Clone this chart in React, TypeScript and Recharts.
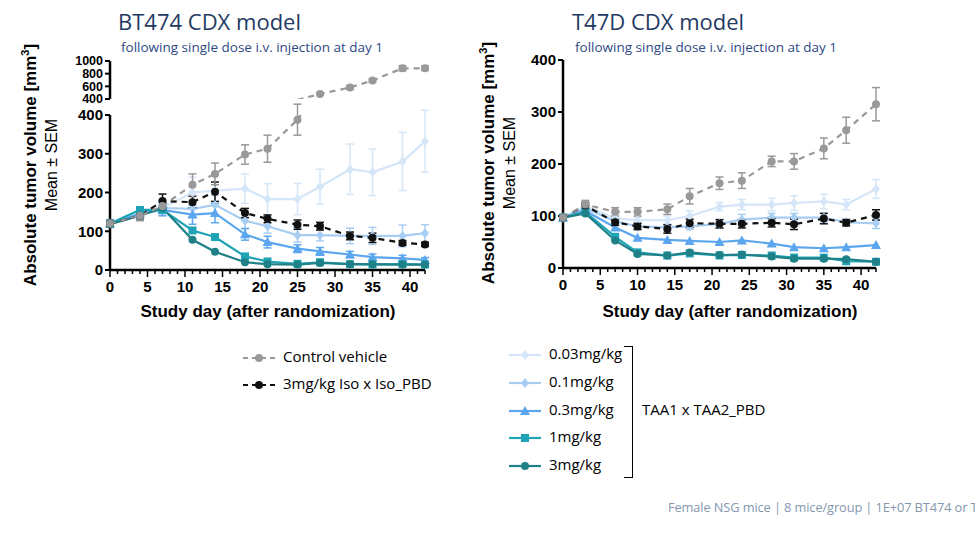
import React from "react";
import { LineChart, Line, XAxis, YAxis, ErrorBar } from "recharts";

// BT474 (left) and T47D (right) tumor volume, mean ± SEM
const bt474Days = [0, 4, 7, 11, 14, 18, 21, 25, 28, 32, 35, 39, 42];
const bt474Control = [120, 140, 165, 220, 248, 298, 313, 388, 478, 583, 692, 885, 885];
const bt474ControlErr = [10, 12, 15, 28, 28, 25, 35, 40, 20, 30, 25, 40, 35];
const bt474Iso = [120, 140, 178, 175, 202, 147, 132, 117, 113, 88, 83, 70, 66];
const bt474IsoErr = [8, 12, 18, 15, 25, 12, 10, 12, 10, 10, 12, 6, 5];
const bt474D003 = [120, 145, 160, 200, 205, 210, 183, 183, 215, 260, 252, 280, 332];
const bt474D003Err = [10, 15, 20, 40, 40, 38, 40, 40, 45, 65, 60, 75, 80];
const bt474D01 = [120, 145, 160, 158, 168, 127, 113, 90, 90, 88, 88, 88, 95];
const bt474D01Err = [8, 12, 15, 20, 25, 20, 18, 18, 15, 20, 22, 28, 22];
const bt474D03 = [120, 145, 155, 143, 147, 92, 72, 55, 48, 40, 33, 30, 26];
const bt474D03Err = [8, 12, 15, 25, 25, 15, 15, 10, 10, 8, 8, 8, 6];
const bt474D1 = [120, 155, 155, 102, 85, 35, 22, 16, 20, 15, 14, 15, 14];
const bt474D3 = [118, 140, 160, 78, 47, 20, 15, 14, 18, 15, 15, 14, 14];

const t47dDays = [0, 3, 7, 10, 14, 17, 21, 24, 28, 31, 35, 38, 42];
const t47dControl = [97, 122, 108, 108, 113, 138, 163, 168, 205, 205, 230, 265, 315];
const t47dControlErr = [5, 8, 8, 8, 10, 15, 12, 15, 10, 15, 20, 25, 32];
const t47dIso = [97, 120, 88, 80, 75, 86, 85, 85, 87, 84, 95, 87, 102];
const t47dIsoErr = [4, 6, 6, 6, 8, 8, 8, 8, 8, 10, 10, 6, 10];
const t47dD003 = [97, 120, 95, 92, 92, 100, 118, 122, 122, 125, 128, 122, 152];
const t47dD003Err = [4, 6, 8, 6, 8, 10, 8, 10, 12, 14, 14, 10, 18];
const t47dD01 = [97, 115, 90, 80, 78, 80, 85, 93, 97, 97, 97, 88, 86];
const t47dD01Err = [4, 6, 6, 6, 6, 6, 8, 10, 8, 8, 8, 6, 10];
const t47dD03 = [97, 110, 78, 58, 54, 52, 50, 53, 47, 40, 38, 40, 44];
const t47dD1 = [97, 108, 60, 30, 24, 28, 24, 25, 24, 20, 20, 13, 12];
const t47dD3 = [97, 105, 53, 27, 24, 30, 25, 26, 22, 18, 18, 17, 12];

const dayTicks = Array.from({ length: 43 }, (_, i) => i);
const BREAK = 400;

const C = {
  control: "#999999",
  iso: "#111111",
  d003: "#d4e6f7",
  d01: "#a8cdf3",
  d03: "#5ba6ee",
  d1: "#1fa3b6",
  d3: "#1f8087",
};

const FONT = "'Liberation Sans', Arial, sans-serif";
const CAL = "'Open Sans', 'Noto Sans', sans-serif";

function build(days: number[], cols: Record<string, (number | null)[]>) {
  return days.map((d, i) => {
    const row: Record<string, number | null> = { day: d };
    Object.keys(cols).forEach((k) => (row[k] = cols[k][i]));
    return row;
  });
}

// split control series across the broken axis
const bt474ControlLowErr = bt474Control.map((v, i) => (v > BREAK ? null : bt474ControlErr[i]));
const bt474ControlUp = bt474Control.map((v, i) => (v > BREAK || bt474Control[i + 1] > BREAK ? v : null));
const bt474ControlUpErr = bt474Control.map((v, i) => (v > BREAK ? bt474ControlErr[i] : null));

const leftData = build(bt474Days, {
  control: bt474Control, controlErr: bt474ControlLowErr,
  controlUp: bt474ControlUp, controlUpErr: bt474ControlUpErr,
  iso: bt474Iso, isoErr: bt474IsoErr,
  d003: bt474D003, d003Err: bt474D003Err,
  d01: bt474D01, d01Err: bt474D01Err,
  d03: bt474D03, d03Err: bt474D03Err,
  d1: bt474D1, d3: bt474D3,
});
const rightData = build(t47dDays, {
  control: t47dControl, controlErr: t47dControlErr,
  iso: t47dIso, isoErr: t47dIsoErr,
  d003: t47dD003, d003Err: t47dD003Err,
  d01: t47dD01, d01Err: t47dD01Err,
  d03: t47dD03,
  d1: t47dD1, d3: t47dD3,
});

type Shape = "circle" | "diamond" | "triangle" | "square" | "hex";

function Marker({ shape, color, x, y, r = 4 }: { shape: Shape; color: string; x: number; y: number; r?: number }) {
  if (shape === "circle" || shape === "hex") return <circle cx={x} cy={y} r={r} fill={color} />;
  if (shape === "square") return <rect x={x - r} y={y - r} width={2 * r} height={2 * r} fill={color} />;
  if (shape === "triangle")
    return <polygon points={`${x},${y - r - 1} ${x + r + 1},${y + r} ${x - r - 1},${y + r}`} fill={color} />;
  return <polygon points={`${x},${y - r - 1} ${x + r},${y} ${x},${y + r + 1} ${x - r},${y}`} fill={color} />;
}

const dotFn = (shape: Shape, color: string, min = -Infinity, max = Infinity) => (p: any) =>
  p.cx == null || p.cy == null || p.value == null || p.value < min || p.value > max ? (
    <g key={p.key} />
  ) : (
    <Marker key={p.key} shape={shape} color={color} x={p.cx} y={p.cy} />
  );

const DayTick = (p: any) => {
  const v = p.payload.value;
  const major = v % 5 === 0 && v <= 40;
  return (
    <g>
      <line x1={p.x} x2={p.x} y1={p.y - 8} y2={p.y - 8 + (major ? 7 : 4)} stroke="#000" strokeWidth={1.5} />
      {major && (
        <text x={p.x} y={p.y + 14} textAnchor="middle" fontFamily={FONT} fontWeight="bold" fontSize={15} fill="#000">
          {v}
        </text>
      )}
    </g>
  );
};

const series: { key: string; shape: Shape; color: string; dash?: string; err?: boolean }[] = [
  { key: "d003", shape: "diamond", color: C.d003, err: true },
  { key: "d01", shape: "diamond", color: C.d01, err: true },
  { key: "d03", shape: "triangle", color: C.d03, err: true },
  { key: "d1", shape: "square", color: C.d1 },
  { key: "d3", shape: "hex", color: C.d3 },
  { key: "iso", shape: "circle", color: C.iso, dash: "6 5", err: true },
  { key: "control", shape: "circle", color: C.control, dash: "6 5", err: true },
];

function renderLines(hasErr: (k: string) => boolean, max = Infinity) {
  return series.map((s) => (
    <Line
      key={s.key}
      dataKey={s.key}
      stroke={s.color}
      strokeWidth={2.2}
      strokeDasharray={s.dash}
      dot={dotFn(s.shape, s.color, -Infinity, max)}
      isAnimationActive={false}
    >
      {s.err && hasErr(s.key) && (
        <ErrorBar dataKey={s.key + "Err"} stroke={s.color} strokeWidth={1.5} width={4} />
      )}
    </Line>
  ));
}

const yTick = { fill: "#000", fontSize: 15, fontWeight: "bold", fontFamily: FONT } as any;
const axisLine = { stroke: "#000", strokeWidth: 2.5 };

function XAx() {
  return (
    <XAxis dataKey="day" type="number" domain={[0, 42]} ticks={dayTicks} interval={0} tick={<DayTick />}
      tickLine={false} axisLine={axisLine} height={30} />
  );
}

function Titles({ x, title }: { x: number; title: string }) {
  return (
    <>
      <div style={{ position: "absolute", left: x, top: 6, fontFamily: CAL, fontSize: 22, color: "#1f3a63" }}>{title}</div>
      <div style={{ position: "absolute", left: x + 3, top: 38, fontFamily: CAL, fontSize: 13.5, color: "#2e4a86" }}>
        following single dose i.v. injection at day 1
      </div>
    </>
  );
}

function YLabel({ cx, cy }: { cx: number; cy: number }) {
  return (
    <div style={{ position: "absolute", left: cx - 150, top: cy - 25, width: 300, height: 50, transform: "rotate(-90deg)", textAlign: "center", fontFamily: FONT, color: "#000", lineHeight: "21px" }}>
      <div style={{ fontWeight: "bold", fontSize: 17 }}>Absolute tumor volume [mm<sup style={{ fontSize: 11 }}>3</sup>]</div>
      <div style={{ fontSize: 16 }}>Mean ± SEM</div>
    </div>
  );
}

function XLabel({ cx }: { cx: number }) {
  return (
    <div style={{ position: "absolute", left: cx - 150, top: 302, width: 300, textAlign: "center", fontFamily: FONT, fontWeight: "bold", fontSize: 17 }}>
      Study day (after randomization)
    </div>
  );
}

function LegendIcon({ shape, color, dash }: { shape: Shape; color: string; dash?: string }) {
  return (
    <svg width={36} height={14} style={{ verticalAlign: "middle", marginRight: 6 }}>
      <line x1={2} x2={34} y1={7} y2={7} stroke={color} strokeWidth={2.2} strokeDasharray={dash ? "5 4" : undefined} />
      <Marker shape={shape} color={color} x={18} y={7} />
    </svg>
  );
}

const legendLeft = [
  { label: "Control vehicle", shape: "circle" as Shape, color: C.control, dash: "y" },
  { label: "3mg/kg Iso x Iso_PBD", shape: "circle" as Shape, color: C.iso, dash: "y" },
];
const legendRight = [
  { label: "0.03mg/kg", shape: "diamond" as Shape, color: C.d003 },
  { label: "0.1mg/kg", shape: "diamond" as Shape, color: C.d01 },
  { label: "0.3mg/kg", shape: "triangle" as Shape, color: C.d03 },
  { label: "1mg/kg", shape: "square" as Shape, color: C.d1 },
  { label: "3mg/kg", shape: "hex" as Shape, color: C.d3 },
];

export default function App() {
  const legendText = { fontFamily: CAL, fontSize: 15, color: "#000" };
  return (
    <div style={{ position: "absolute", left: 0, top: 0, width: 975, height: 533, background: "#fff", overflow: "hidden" }}>
      <Titles x={118} title="BT474 CDX model" />
      <Titles x={572} title="T47D CDX model" />

      {/* left upper (broken axis) */}
      <div style={{ position: "absolute", left: 0, top: 0 }}>
        <LineChart width={470} height={110} data={leftData} margin={{ top: 61, right: 45, bottom: 11, left: 70 }}>
          <XAxis dataKey="day" type="number" domain={[0, 42]} hide />
          <YAxis width={40} domain={[400, 1000]} ticks={[400, 600, 800, 1000]} allowDataOverflow interval={0}
            tick={{ ...yTick, fontSize: 12.5 }} tickLine={{ stroke: "#000", strokeWidth: 2 }} axisLine={axisLine} tickSize={5} />
          <Line dataKey="controlUp" stroke={C.control} strokeWidth={2.2} strokeDasharray="6 5"
            dot={dotFn("circle", C.control, BREAK)} isAnimationActive={false}>
            <ErrorBar dataKey="controlUpErr" stroke={C.control} strokeWidth={1.5} width={4} />
          </Line>
        </LineChart>
      </div>
      {/* left lower */}
      <div style={{ position: "absolute", left: 0, top: 0 }}>
        <LineChart width={470} height={330} data={leftData} margin={{ top: 115, right: 45, bottom: 30, left: 70 }}>
          {XAx()}
          <YAxis width={40} domain={[0, 400]} ticks={[0, 100, 200, 300, 400]} allowDataOverflow
            tick={yTick} tickLine={{ stroke: "#000", strokeWidth: 2 }} axisLine={axisLine} tickSize={5} />
          {renderLines(() => true, BREAK)}
        </LineChart>
      </div>
      {/* right */}
      <div style={{ position: "absolute", left: 470, top: 0 }}>
        <LineChart width={470} height={330} data={rightData} margin={{ top: 60, right: 64, bottom: 32, left: 53 }}>
          {XAx()}
          <YAxis width={40} domain={[0, 400]} ticks={[0, 100, 200, 300, 400]}
            tick={yTick} tickLine={{ stroke: "#000", strokeWidth: 2 }} axisLine={axisLine} tickSize={5} />
          {renderLines((k) => k !== "d03")}
        </LineChart>
      </div>

      <YLabel cx={40} cy={165} />
      <YLabel cx={498} cy={163} />
      <XLabel cx={268} />
      <XLabel cx={730} />

      <div style={{ position: "absolute", left: 241, top: 346 }}>
        {legendLeft.map((l) => (
          <div key={l.label} style={{ ...legendText, height: 27, whiteSpace: "nowrap" }}>
            <LegendIcon shape={l.shape} color={l.color} dash={l.dash} />{l.label}
          </div>
        ))}
      </div>
      <div style={{ position: "absolute", left: 507, top: 343 }}>
        {legendRight.map((l) => (
          <div key={l.label} style={{ ...legendText, height: 27.8, whiteSpace: "nowrap" }}>
            <LegendIcon shape={l.shape} color={l.color} />{l.label}
          </div>
        ))}
      </div>
      <div style={{ position: "absolute", left: 624, top: 346, width: 8, height: 130, borderRight: "1.5px solid #000", borderTop: "1.5px solid #000", borderBottom: "1.5px solid #000" }} />
      <div style={{ position: "absolute", left: 642, top: 399, ...legendText }}>TAA1 x TAA2_PBD</div>
      <div style={{ position: "absolute", left: 668, top: 498, fontFamily: CAL, fontSize: 12.8, letterSpacing: -0.1, color: "#8497b0", whiteSpace: "nowrap" }}>
        Female NSG mice | 8 mice/group | 1E+07 BT474 or T47D s.c.
      </div>
    </div>
  );
}
